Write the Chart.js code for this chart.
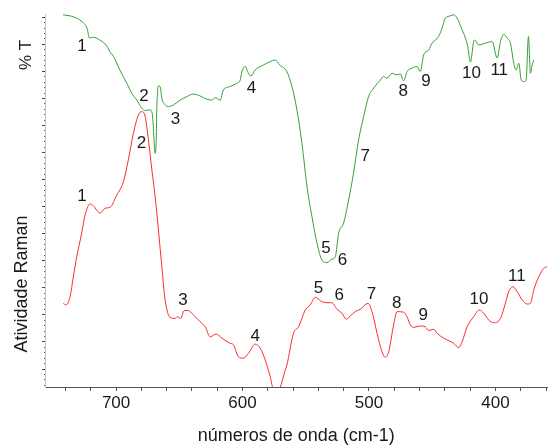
<!DOCTYPE html>
<html>
<head>
<meta charset="utf-8">
<script src="https://cdn.jsdelivr.net/npm/chart.js@4.4.1/dist/chart.umd.min.js"></script>
<style>
  html, body { margin: 0; padding: 0; background: #fff; }
  canvas { display: block; }
</style>
</head>
<body>
<canvas id="spectra" width="548" height="447"></canvas>
<script>
// IR transmission (green) - wavenumber (cm-1) and %T, arbitrary units
const irWave = [742, 734, 727, 723, 721, 718, 713, 707, 705, 702,
  697, 691.5, 687.6, 683.6, 679.7, 677, 673.1, 671.7, 670.9, 669.1,
  668.3, 667.8, 666.5, 665.2, 663.8, 661.2, 658.6, 654.6, 649.3, 644,
  638.8, 633.5, 628.2, 624.2, 621.6, 617.7, 615.1, 609.8, 604.5, 601.8,
  600.5, 597.9, 595.3, 593.4, 590, 583.4, 578.1, 574.1, 570.7, 564.9,
  560.9, 557, 553, 549, 545.1, 541.1, 537.2, 533.2, 529.3, 526.6,
  524, 520.1, 516.1, 512.2, 508.2, 504.2, 500.3, 496.3, 491, 488.4,
  485.7, 481.8, 477.8, 475.2, 472.6, 469.9, 465.9, 462, 459.4, 456.7,
  452.8, 450.1, 444.9, 442.2, 439.6, 435.6, 433, 430.3, 426.3, 423.7,
  421.9, 419.8, 417.2, 416.4, 413.2, 407.9, 402.6, 398.6, 396, 393.4,
  390.7, 388.1, 385.5, 383.6, 381.5, 379.6, 377.6, 375.7, 373.9, 372.3,
  370.9, 369.7];
const irT = [130.9, 130.2, 128.4, 126.0, 122.3, 122.6, 121.6, 119.2, 117.3, 115.5,
  110.5, 105.6, 101.9, 99.4, 96.4, 95.5, 95.8, 95.1, 92.1, 79.7,
  83.6, 95.8, 104.6, 104.4, 100.1, 97.6, 97.0, 97.6, 99.4, 100.7,
  101.6, 100.9, 99.7, 99.4, 100.3, 99.4, 103.1, 104.4, 105.6, 106.8,
  109.9, 111.8, 109.3, 108.3, 110.5, 112.4, 113.6, 114.2, 112.4, 109.9,
  104.4, 95.8, 83.4, 67.4, 56.3, 46.5, 40.3, 39.3, 40.6, 41.5,
  50.2, 53.9, 62.5, 72.4, 84.7, 93.3, 100.7, 103.8, 106.8, 108.1,
  107.5, 109.3, 108.7, 109.1, 106.5, 109.9, 111.2, 111.8, 109.9, 116.1,
  117.9, 120.4, 122.9, 126.0, 129.7, 130.5, 130.9, 129.7, 125.3, 122.3,
  119.2, 113.4, 121.0, 121.6, 119.8, 120.4, 121.0, 114.9, 121.0, 123.7,
  122.3, 120.4, 113.0, 110.5, 113.0, 106.8, 106.2, 106.8, 122.9, 109.3,
  112.4, 114.2];

// Raman activity (red)
const ramanWave = [741.7, 739.6, 736.4, 733.8, 731.1, 727.2, 724.5, 720.6, 718, 712.7,
  708.7, 704.7, 699.4, 694.2, 690.3, 686.3, 682.3, 679.7, 677, 674.4,
  671.7, 669.1, 666.5, 663.8, 661.2, 657.3, 653.3, 651.5, 648.8, 646.2,
  642.8, 638.8, 633.5, 629.5, 625.6, 620.8, 616.3, 609.8, 607.1, 603.2,
  599.2, 595.3, 590, 586, 582, 578.1, 575.5, 571.5, 566.2, 564.9,
  559.7, 555.7, 550.4, 546.4, 542.5, 537.2, 533.2, 529.3, 525.3, 521.3,
  517.9, 514.8, 510.8, 506.8, 500.8, 497.6, 493.6, 489.7, 487.1, 484.4,
  480.5, 477.8, 472.6, 469.9, 467.3, 464.7, 459.4, 455.5, 452.8, 448.8,
  446.1, 440.9, 436.9, 433, 429, 426.3, 422.4, 417.2, 412.7, 409.2,
  405.3, 401.3, 396, 392.1, 389.5, 386.3, 382.8, 378.8, 374.9, 372.3,
  369.7, 365.7, 361.8, 359.1];
const ramanInt = [24.3, 23.7, 26.7, 34.1, 41.5, 50.2, 56.9, 61.0, 60.3, 57.6,
  59.4, 59.8, 64.3, 69.2, 77.3, 87.1, 93.9, 95.1, 93.3, 84.7,
  73.6, 63.7, 51.4, 37.8, 25.5, 19.1, 18.7, 19.3, 18.7, 21.6,
  21.6, 20.0, 17.5, 15.6, 11.9, 12.9, 11.4, 9.5, 8.9, 4.5,
  4.0, 5.8, 9.2, 7.7, 3.3, -2.8, -7.5, -7.5, -0.4, 1.5,
  13.2, 15.6, 21.8, 23.7, 26.5, 24.9, 24.5, 24.5, 22.1, 20.6,
  18.4, 19.6, 21.2, 22.1, 24.3, 21.2, 13.2, 6.4, 4.3, 6.4,
  16.3, 21.2, 21.0, 19.3, 16.3, 15.4, 15.9, 15.6, 14.2, 14.7,
  13.2, 11.4, 10.5, 9.5, 7.9, 10.1, 15.6, 19.3, 21.8, 20.6,
  18.1, 17.1, 18.7, 24.3, 28.6, 30.4, 28.6, 25.5, 24.0, 24.3,
  29.2, 34.1, 37.2, 37.8];

// Band numbers (anchor in data units)
const bandNames = ['1', '2', '3', '4', '5', '6', '7', '8', '9', '10', '11'];
const irBandWave = [727, 678, 653, 593, 534, 521, 503, 473, 455, 419, 397];
const irBandPos = [119.2, 100.9, 92.3, 103.8, 44.6, 40.0, 78.5, 102.5, 106.5, 109.1, 110.5];
const ramanBandWave = [727, 680, 647, 590, 540, 523.5, 498, 478, 457, 413, 383];
const ramanBandPos = [64.0, 83.4, 25.3, 12.2, 29.8, 27.4, 27.6, 24.3, 20.0, 25.8, 34.4];

// Axis ranges
const waveMin = 358.8;
const waveMax = 756.2;
const yMin = -6.65;
const yMax = 131.2;

const FONT = '"Liberation Sans", Arial, sans-serif';
const TEXT = '#1a1a1a';

function toPoints(xs, ys) {
    return xs.map((x, i) => ({ x: x, y: ys[i] }));
}

function isMajor(v) {
    return Math.abs(v / 10 - Math.round(v / 10)) < 1e-6;
}

// band numbers and the two side titles
const labelPlugin = {
    id: 'bandLabels',
    afterDatasetsDraw(chart) {
        const { ctx, chartArea, scales: { x, y } } = chart;
        ctx.save();
        ctx.fillStyle = TEXT;
        ctx.font = '17px ' + FONT;
        ctx.textAlign = 'center';
        ctx.textBaseline = 'middle';
        bandNames.forEach((t, i) => {
            ctx.fillText(t, x.getPixelForValue(irBandWave[i]), y.getPixelForValue(irBandPos[i]));
            ctx.fillText(t, x.getPixelForValue(ramanBandWave[i]), y.getPixelForValue(ramanBandPos[i]));
        });

        ctx.textBaseline = 'alphabetic';
        ctx.save();
        ctx.translate(chartArea.left - 14, chartArea.top + 41);
        ctx.rotate(-Math.PI / 2);
        ctx.fillText('% T', 0, 0);
        ctx.restore();

        ctx.save();
        ctx.font = '18px ' + FONT;
        ctx.translate(chartArea.left - 18.5, chartArea.top + 270);
        ctx.rotate(-Math.PI / 2);
        ctx.fillText('Atividade Raman', 0, 0);
        ctx.restore();
        ctx.restore();
    }
};

new Chart(document.getElementById('spectra'), {
    type: 'line',
    data: {
        datasets: [{
            label: 'IR',
            data: toPoints(irWave, irT),
            borderColor: '#34a034',
            borderWidth: 1,
            pointRadius: 0,
            cubicInterpolationMode: 'monotone'
        }, {
            label: 'Raman',
            data: toPoints(ramanWave, ramanInt),
            borderColor: '#ff2b2b',
            borderWidth: 1,
            pointRadius: 0,
            cubicInterpolationMode: 'monotone'
        }]
    },
    options: {
        responsive: false,
        animation: false,
        layout: { padding: { top: 14, right: 0, left: 0, bottom: 0 } },
        plugins: {
            legend: { display: false },
            tooltip: { enabled: false }
        },
        scales: {
            x: {
                type: 'linear',
                reverse: true,
                min: waveMin,
                max: waveMax,
                afterFit(scale) { scale.height = 60; },
                ticks: {
                    stepSize: 20,
                    maxTicksLimit: 1000,
                    includeBounds: false,
                    autoSkip: false,
                    maxRotation: 0,
                    padding: 2,
                    color: TEXT,
                    font: { family: FONT, size: 17 },
                    callback: v => (Math.round(v) % 100 === 0 ? String(Math.round(v)) : '')
                },
                grid: { drawOnChartArea: false, tickLength: 4, tickColor: '#555' },
                border: { color: '#555' },
                title: {
                    display: true,
                    text: 'números de onda (cm-1)',
                    color: TEXT,
                    font: { family: FONT, size: 18 },
                    padding: { top: 0, bottom: 0 }
                }
            },
            y: {
                min: yMin,
                max: yMax,
                afterFit(scale) { scale.width = 45; },
                ticks: { display: false, stepSize: 2, maxTicksLimit: 1000, includeBounds: false },
                grid: {
                    drawOnChartArea: false,
                    tickLength: 3,
                    tickColor: c => (c.tick && isMajor(c.tick.value) ? '#444' : '#555'),
                    tickBorderDash: c => (c.tick && isMajor(c.tick.value) ? [] : [0, 2, 1, 10])
                },
                border: { color: '#c4c4c4' }
            }
        }
    },
    plugins: [labelPlugin]
});
</script>
</body>
</html>
